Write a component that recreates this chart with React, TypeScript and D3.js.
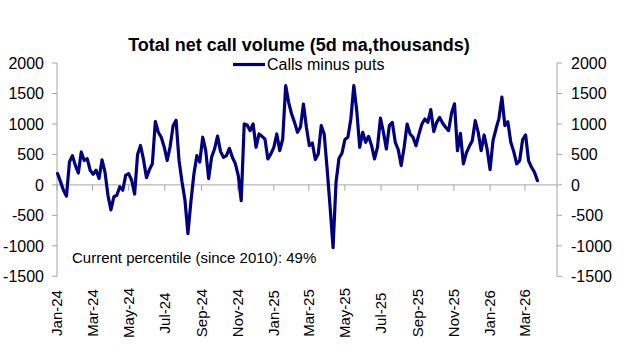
import React from "react";
import * as d3 from "d3";

const titleText = "Total net call volume (5d ma,thousands)";
const seriesName = "Calls minus puts";
const noteText = "Current percentile (since 2010): 49%";

// observations every 5 calendar days starting 2 Jan 2024
const seriesStart = new Date(2024, 0, 2);
const stepDays = 5;
const netCalls = [
  185, 50, -90, -185, 375, 480, 320, 195, 540, 400,
  430, 240, 175, 240, 105, 410, 210, -170, -410, -195,
  -170, -30, -87, 160, 185, 76, -150, 500, 646, 418,
  120, 250, 348, 1040, 863, 782, 619, 402, 630, 972,
  1060, 402, 50, -250, -800, -280, 170, 480, 375, 782,
  565, 103, 456, 592, 800, 550, 453, 480, 600, 453,
  350, 153, -260, 1000, 983, 890, 1000, 617, 835, 797,
  753, 426, 508, 617, 835, 562, 753, 1630, 1354, 1163,
  1026, 863, 950, 1327, 945, 644, 688, 415, 508, 972,
  835, 262, -366, -1030, 44, 437, 519, 743, 781, 1081,
  1630, 1218, 617, 863, 699, 797, 644, 426, 620, 1097,
  863, 590, 972, 1026, 699, 579, 317, 617, 999, 835,
  781, 644, 835, 999, 1081, 1026, 1234, 874, 1026, 1108,
  1010, 945, 890, 1179, 1330, 560, 846, 344, 524, 633,
  726, 1054, 863, 562, 819, 590, 251, 726, 917, 1092,
  1440, 972, 1037, 699, 546, 344, 399, 743, 819, 399,
  289, 207, 70,
];

const yTickValues = [2000, 1500, 1000, 500, 0, -500, -1000, -1500];
const xDomainStart = new Date(2024, 0, 1);
const xDomainEnd = new Date(2026, 3, 24);

const FONT = "'Liberation Sans', Arial, Helvetica, sans-serif";
const AXIS = "#a6a6a6";
const LINE = "#00007f";

export default function App() {
  const W = 627;
  const H = 349;
  const left = 57;
  const right = 557;
  const x = d3.scaleTime().domain([xDomainStart, xDomainEnd]).range([left, right]);
  const y = d3.scaleLinear().domain([-1500, 2000]).range([276.3, 63]);

  const data = netCalls.map((v, i) => ({
    date: d3.timeDay.offset(seriesStart, i * stepDays),
    value: v,
  }));

  const line = d3
    .line<{ date: Date; value: number }>()
    .x((d) => x(d.date))
    .y((d) => y(d.value));

  const xTicks = d3.timeMonth.every(2)!.range(xDomainStart, new Date(2026, 3, 2));
  const fmt = d3.timeFormat("%b-%y");
  const y0 = y(0);

  return (
    <svg
      width={W}
      height={H}
      viewBox={`0 0 ${W} ${H}`}
      style={{ position: "absolute", left: 0, top: 0, background: "#fff" }}
      fontFamily={FONT}
    >
      <rect x={0} y={0} width={W} height={H} fill="#fff" />
      <text x={299} y={50.5} textAnchor="middle" fontSize={18} fontWeight="bold" fill="#000">
        {titleText}
      </text>

      {/* left axis */}
      <line x1={left} x2={left} y1={y(2000)} y2={y(-1500)} stroke={AXIS} strokeWidth={1} />
      {yTickValues.map((t) => (
        <g key={"l" + t}>
          <line x1={left - 5} x2={left} y1={y(t)} y2={y(t)} stroke={AXIS} />
          <text x={44} y={y(t)} dy="0.36em" textAnchor="end" fontSize={16} fill="#000">
            {t}
          </text>
        </g>
      ))}

      {/* right axis */}
      <line x1={right} x2={right} y1={y(2000)} y2={y(-1500)} stroke={AXIS} strokeWidth={1} />
      {yTickValues.map((t) => (
        <g key={"r" + t}>
          <line x1={right} x2={right + 5} y1={y(t)} y2={y(t)} stroke={AXIS} />
          <text x={571} y={y(t)} dy="0.36em" textAnchor="start" fontSize={16} fill="#000">
            {t}
          </text>
        </g>
      ))}

      {/* x axis at zero */}
      <line x1={left} x2={right} y1={y0} y2={y0} stroke={AXIS} strokeWidth={1} />
      {xTicks.map((d) => (
        <g key={d.toISOString()}>
          <line x1={x(d)} x2={x(d)} y1={y0} y2={y0 + 6} stroke={AXIS} />
          <text
            transform={`translate(${x(d)},313) rotate(-90)`}
            textAnchor="middle"
            dy="0.36em"
            fontSize={15}
            fill="#000"
          >
            {fmt(d)}
          </text>
        </g>
      ))}

      <path
        d={line(data) || ""}
        fill="none"
        stroke={LINE}
        strokeWidth={3.2}
        strokeLinejoin="round"
        strokeLinecap="round"
      />

      {/* legend */}
      <line x1={233} x2={265} y1={64.5} y2={64.5} stroke={LINE} strokeWidth={3.2} />
      <text x={267} y={64.5} dy="0.36em" fontSize={16} fill="#000">
        {seriesName}
      </text>

      <text x={72} y={263} fontSize={15} fill="#000">
        {noteText}
      </text>
    </svg>
  );
}
